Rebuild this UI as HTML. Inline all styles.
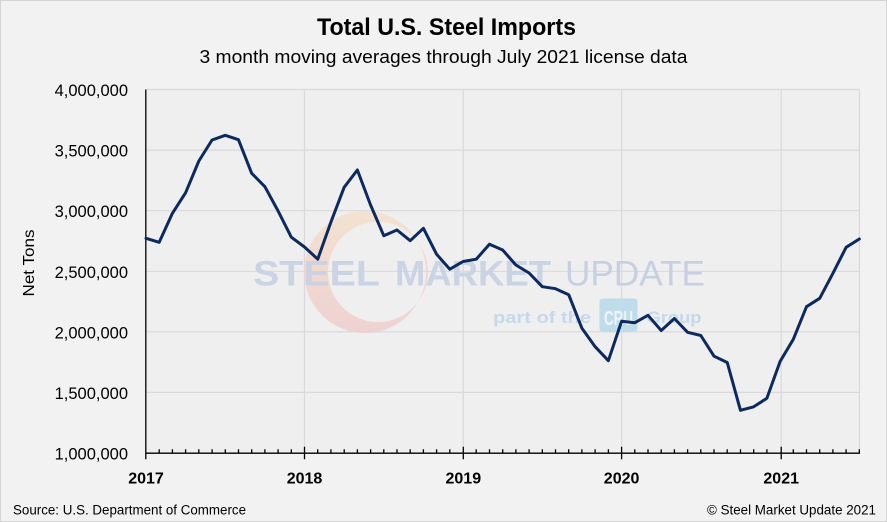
<!DOCTYPE html>
<html><head><meta charset="utf-8"><style>
html,body{margin:0;padding:0;background:#f2f2f2;}
svg{display:block;}
text{font-family:"Liberation Sans",Arial,sans-serif;}
</style></head><body>
<svg width="887" height="522" viewBox="0 0 887 522" xmlns="http://www.w3.org/2000/svg">
<defs>
<linearGradient id="cg" x1="0" y1="0" x2="0" y2="1">
<stop offset="0" stop-color="#f5e0c8"/>
<stop offset="0.5" stop-color="#f1d3c8"/>
<stop offset="1" stop-color="#eecbcb"/>
</linearGradient>
<linearGradient id="tg" x1="0" y1="0" x2="0" y2="1">
<stop offset="0" stop-color="#c5d3e6"/>
<stop offset="1" stop-color="#cdcfe0"/>
</linearGradient>
</defs>
<rect x="0.5" y="0.5" width="886" height="521" fill="#f2f2f2" stroke="#d4d4d4" stroke-width="1"/>
<!-- plot area -->
<rect x="146" y="89.5" width="713.5" height="363.5" fill="#efefef"/>
<!-- gridlines -->
<g stroke="#d9d9d9" stroke-width="1.2" fill="none">
<path d="M146 89.5H859.5M146 150.1H859.5M146 210.7H859.5M146 271.3H859.5M146 331.8H859.5M146 392.4H859.5"/>
<path d="M304.5 89.5V453M463.3 89.5V453M621.6 89.5V453M781.2 89.5V453M859.5 89.5V453"/>
</g>
<!-- watermark -->
<g opacity="0.8">
<path fill-rule="evenodd" fill="url(#cg)" d="M304 272a61 61 0 1 0 122 0a61 61 0 1 0 -122 0Z M328 272a50 50 0 1 0 100 0a50 50 0 1 0 -100 0Z"/>
</g>
<g>
<text x="253" y="285.5" font-size="35" font-weight="bold" fill="#c6d0e2" fill-opacity="0.9" textLength="127" lengthAdjust="spacingAndGlyphs">STEEL</text>
<text x="395" y="285.5" font-size="35" font-weight="bold" fill="#c6d0e2" fill-opacity="0.9" textLength="156" lengthAdjust="spacingAndGlyphs">MARKET</text>
<text x="565" y="285.5" font-size="35" fill="#c6d0e2" textLength="140" lengthAdjust="spacingAndGlyphs">UPDATE</text>
<text x="493" y="323" font-size="17" font-weight="bold" fill="#c6d8ea" textLength="98" lengthAdjust="spacingAndGlyphs">part of the</text>
<rect x="599.5" y="298.5" width="38" height="33" rx="3" fill="#bfdceb"/>
<text x="604" y="325" font-size="20" font-weight="bold" fill="#eef6fa" textLength="29" lengthAdjust="spacingAndGlyphs">CRU</text>
<text x="646.5" y="323" font-size="17" font-weight="bold" fill="#c6d8ea" textLength="55" lengthAdjust="spacingAndGlyphs">Group</text>
</g>
<!-- axes -->
<g stroke="#000" stroke-width="1.3" fill="none">
<path d="M145.8 89.5V459.3"/>
<path d="M145.8 453.2H860"/>
<path d="M304.5 446.7V459.3M463.3 446.7V459.3M621.6 446.7V459.3M781.2 446.7V459.3"/>
<path d="M159.2 449.2V453M172.4 449.2V453M185.6 449.2V453M198.8 449.2V453M212.1 449.2V453M225.3 449.2V453M238.5 449.2V453M251.7 449.2V453M264.9 449.2V453M278.1 449.2V453M291.3 449.2V453
M317.7 449.2V453M330.9 449.2V453M344.2 449.2V453M357.4 449.2V453M370.6 449.2V453M383.8 449.2V453M397 449.2V453M410.2 449.2V453M423.4 449.2V453M436.6 449.2V453M449.8 449.2V453
M476.2 449.2V453M489.5 449.2V453M502.7 449.2V453M515.9 449.2V453M529.1 449.2V453M542.3 449.2V453M555.5 449.2V453M568.7 449.2V453M581.9 449.2V453M595.1 449.2V453M608.4 449.2V453
M634.8 449.2V453M648 449.2V453M661.2 449.2V453M674.4 449.2V453M687.6 449.2V453M700.8 449.2V453M714 449.2V453M727.2 449.2V453M740.5 449.2V453M753.7 449.2V453M766.9 449.2V453
M793.3 449.2V453M806.5 449.2V453M819.7 449.2V453M832.9 449.2V453M846.1 449.2V453M859.3 449.2V453"/>
</g>
<!-- data line -->
<polyline fill="none" stroke="#0d2a60" stroke-width="3" stroke-linejoin="round" stroke-linecap="round" points="
146,238.3 159.21,242.3 172.42,213.3 185.63,192.7 198.84,161 212.05,140 225.26,135.3 238.47,139.7 251.68,173.3 264.89,186.7 278.1,211 291.31,237.2
304.52,247 317.73,259.2 330.94,222 344.15,187.3 357.36,170 370.57,205 383.78,235.7 396.99,230 410.2,240.7 423.41,228.3 436.62,254.3 449.83,269.2
463.04,261.5 476.25,259.2 489.46,244.2 502.67,250 515.88,265 529.09,273 542.3,286.7 555.51,288.7 568.72,294.7 581.93,328.3 595.14,346.7 608.35,360.7
621.56,321.3 634.77,322.7 647.98,315.3 661.19,330.5 674.4,318.5 687.61,332.3 700.82,335.5 714.03,356.2 727.24,362.5 740.45,410.3 753.66,406.8 766.87,398.3
780.08,361.5 793.29,339.3 806.5,306.7 819.71,298.3 832.92,273.3 846.13,247.3 859.34,239"/>
<!-- titles -->
<text x="317" y="35" font-size="24" font-weight="bold" fill="#000" textLength="259" lengthAdjust="spacingAndGlyphs">Total U.S. Steel Imports</text>
<text x="199.5" y="63" font-size="18.5" fill="#000" textLength="488" lengthAdjust="spacingAndGlyphs">3 month moving averages through July 2021 license data</text>
<!-- y labels -->
<g font-size="16.5" text-anchor="end" fill="#000">
<text x="128" y="96">4,000,000</text>
<text x="128" y="156.6">3,500,000</text>
<text x="128" y="217.2">3,000,000</text>
<text x="128" y="277.8">2,500,000</text>
<text x="128" y="338.3">2,000,000</text>
<text x="128" y="398.9">1,500,000</text>
<text x="128" y="459.5">1,000,000</text>
</g>
<text transform="translate(34,263) rotate(-90)" font-size="16" fill="#000" text-anchor="middle" textLength="67" lengthAdjust="spacingAndGlyphs">Net Tons</text>
<!-- x labels -->
<g font-size="16" font-weight="bold" text-anchor="middle" fill="#000">
<text x="146" y="483.5">2017</text>
<text x="304.5" y="483.5">2018</text>
<text x="463.3" y="483.5">2019</text>
<text x="621.6" y="483.5">2020</text>
<text x="781.2" y="483.5">2021</text>
</g>
<text x="13" y="514.5" font-size="13.5" fill="#000" textLength="233" lengthAdjust="spacingAndGlyphs">Source: U.S. Department of Commerce</text>
<text x="707" y="514.5" font-size="13.5" fill="#000" textLength="169" lengthAdjust="spacingAndGlyphs">© Steel Market Update 2021</text>
</svg>
</body></html>
